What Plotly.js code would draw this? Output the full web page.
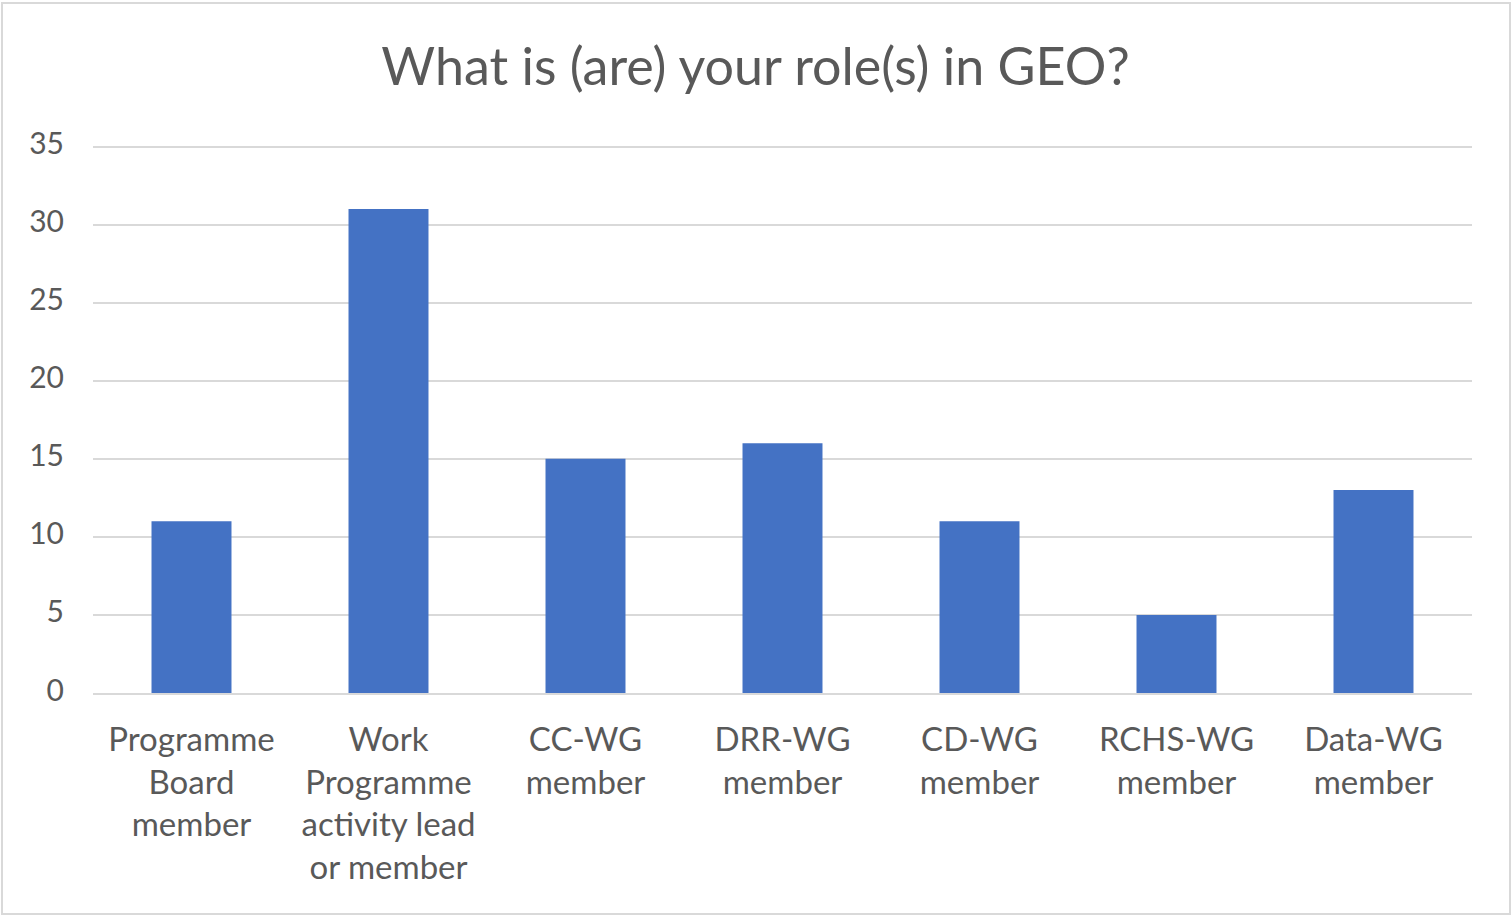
<!DOCTYPE html>
<html>
<head>
<meta charset="utf-8">
<script src="https://cdn.plot.ly/plotly-3.0.1.min.js"></script>
<style>
html,body{margin:0;padding:0;background:#fff;}
#chart{position:absolute;left:0;top:0;width:1511px;height:915px;}
#frame{position:absolute;left:1px;top:2px;width:1506px;height:909px;border:2px solid #d9d9d9;pointer-events:none;}
</style>
</head>
<body>
<div id="chart"></div>
<div id="frame"></div>
<script>
const categories = [
  "Programme<br>Board<br>member",
  "Work<br>Programme<br>activity lead<br>or member",
  "CC-WG<br>member",
  "DRR-WG<br>member",
  "CD-WG<br>member",
  "RCHS-WG<br>member",
  "Data-WG<br>member"
];
const counts = [11, 31, 15, 16, 11, 5, 13];
const yTicks = [0, 5, 10, 15, 20, 25, 30, 35];
const titleText = "What is (are) your role(s) in GEO?";

const textColor = "#595959";
const fontFam = "Lato, 'Open Sans', sans-serif";

const data = [{
  type: "bar",
  x: categories,
  y: counts,
  marker: {color: "#4472C4"},
  hoverinfo: "x+y"
}];

const layout = {
  width: 1511,
  height: 915,
  margin: {l: 93, r: 39, t: 142, b: 222},
  paper_bgcolor: "#ffffff",
  plot_bgcolor: "#ffffff",
  bargap: 0.594,
  showlegend: false,
  title: {
    text: titleText,
    font: {family: fontFam, size: 52, color: textColor},
    x: 0.5, xref: "container", xanchor: "center",
    y: 1 - 67/915, yref: "container", yanchor: "middle"
  },
  xaxis: {
    type: "category",
    showgrid: false,
    showline: true,
    linecolor: "#d9d9d9",
    linewidth: 2,
    ticks: "",
    tickangle: 0,
    ticklabelstandoff: 16,
    tickfont: {family: fontFam, size: 33, color: textColor},
    zeroline: false
  },
  yaxis: {
    range: [0, 35.3],
    tickvals: yTicks,
    ticktext: yTicks.map(String),
    showgrid: true,
    gridcolor: "#d9d9d9",
    gridwidth: 2,
    zeroline: false,
    showline: false,
    ticks: "",
    ticklabelstandoff: 28,
    ticklabelshift: -3,
    tickfont: {family: fontFam, size: 30, color: textColor}
  }
};

Plotly.newPlot("chart", data, layout, {displayModeBar: false, staticPlot: true});
</script>
</body>
</html>
